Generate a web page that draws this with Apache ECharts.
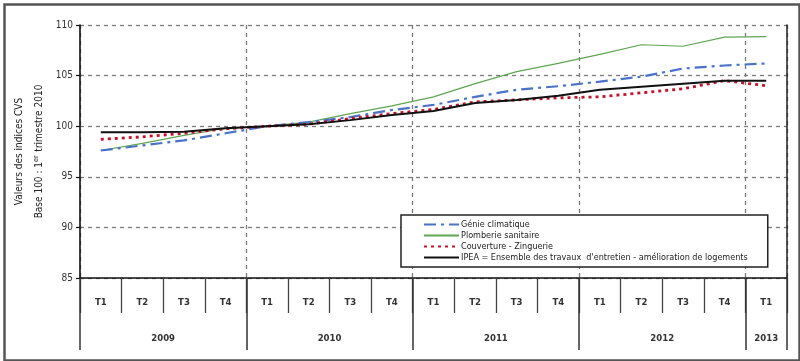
<!DOCTYPE html>
<html>
<head>
<meta charset="utf-8">
<script src="https://cdn.jsdelivr.net/npm/echarts@6/dist/echarts.min.js"></script>
<style>
html,body{margin:0;padding:0;background:#fff;}
#chart{width:800px;height:361px;}
</style>
</head>
<body>
<div id="chart"></div>
<script>
// ---- data ----
var quarters = ['T1','T2','T3','T4','T1','T2','T3','T4','T1','T2','T3','T4','T1','T2','T3','T4','T1'];
var years = ['2009','2010','2011','2012','2013'];
var yearCounts = [4,4,4,4,1];
var seriesNames = ['Génie climatique','Plomberie sanitaire','Couverture - Zinguerie',"IPEA = Ensemble des travaux  d'entretien - amélioration de logements"];
var genie      = [97.6, 98.1, 98.6, 99.3, 100.0, 100.4, 100.9, 101.6, 102.1, 102.9, 103.6, 103.95, 104.4, 104.9, 105.7, 106.0, 106.2];
var plomberie  = [97.6, 98.3, 99.1, 99.8, 100.0, 100.4, 101.25, 102.0, 102.9, 104.2, 105.4, 106.2, 107.1, 108.05, 107.9, 108.8, 108.85];
var couverture = [98.7, 98.95, 99.3, 99.75, 100.0, 100.2, 100.75, 101.25, 101.65, 102.4, 102.6, 102.8, 102.9, 103.3, 103.7, 104.5, 104.0];
var ipea       = [99.4, 99.4, 99.45, 99.8, 100.0, 100.2, 100.6, 101.1, 101.5, 102.3, 102.6, 103.0, 103.6, 103.9, 104.2, 104.5, 104.5];
var yTicks = [85, 90, 95, 100, 105, 110];

// year boundaries / centres derived from quarter counts
var yearStarts = [], yearCentres = [];
(function(){ var s = 0; for (var i = 0; i < yearCounts.length; i++){ yearStarts.push(s); yearCentres.push(s + yearCounts[i]/2); s += yearCounts[i]; } })();

var chart = echarts.init(document.getElementById('chart'), null, {renderer:'canvas'});
var font = "'DejaVu Sans Condensed', 'Liberation Sans Narrow', 'Liberation Sans', Arial, sans-serif";
var dashGrid = {color:'#7a7a7a', width:1.3, type:[4,4]};

var option = {
  backgroundColor:'#fff',
  animation:false,
  textStyle:{fontFamily:font},
  grid:{left:80, right:13, top:25, bottom:83, containLabel:false},
  legend:{
    orient:'vertical', left:401, top:215,
    padding:[5,20,5,22],
    itemGap:2, itemWidth:35, itemHeight:10,
    backgroundColor:'#fff', borderColor:'#222', borderWidth:1.5,
    itemStyle:{color:'rgba(0,0,0,0)', borderColor:'rgba(0,0,0,0)', borderWidth:0, opacity:0},
    textStyle:{fontFamily:font, fontSize:9, color:'#222', padding:[0,0,0,-3]},
    data:seriesNames
  },
  xAxis:[
    { type:'category', data:quarters, position:'bottom', boundaryGap:true,
      axisLine:{show:true, lineStyle:{color:'#111', width:1.6}},
      axisTick:{show:true, length:35, lineStyle:{color:'#444', width:1.3}},
      axisLabel:{margin:20, fontSize:9.5, fontWeight:'bold', color:'#333', fontFamily:font},
      splitLine:{show:false}
    },
    { type:'category', data:quarters, position:'bottom', boundaryGap:true,
      axisLine:{show:false},
      axisTick:{show:true, length:72, interval:function(i){return yearStarts.indexOf(i) >= 0;}, lineStyle:{color:'#333', width:1.5}},
      axisLabel:{show:false},
      splitLine:{show:true, interval:function(i){return yearStarts.indexOf(i) >= 0;}, lineStyle:dashGrid}
    },
    { type:'value', min:0, max:quarters.length, interval:0.5, position:'bottom',
      axisLine:{show:false}, axisTick:{show:false}, splitLine:{show:false},
      axisLabel:{margin:56, fontSize:9.5, fontWeight:'bold', color:'#333', fontFamily:font,
        showMinLabel:true, showMaxLabel:true,
        formatter:function(v){ var k = yearCentres.indexOf(v); return k >= 0 ? years[k] : ''; }}
    }
  ],
  yAxis:[
    { type:'value', min:85, max:110, interval:5,
      axisLine:{show:true, lineStyle:{color:'#111', width:1.6}},
      axisTick:{show:true, length:4, lineStyle:{color:'#111', width:1.2}},
      axisLabel:{fontSize:10, color:'#333', margin:7, fontFamily:font,
        formatter:function(v){ return yTicks.indexOf(v) >= 0 ? String(v) : ''; }},
      splitLine:{show:true, lineStyle:dashGrid},
      name:'{a|Valeurs des indices CVS}\n{a|Base 100 : 1}{s|er}{a| trimestre 2010}',
      nameLocation:'middle', nameRotate:90, nameGap:26,
      nameTextStyle:{rich:{
        a:{fontSize:10, color:'#222', fontFamily:font, lineHeight:20},
        s:{fontSize:7, color:'#222', fontFamily:font, lineHeight:20, padding:[0,1,5,0]}
      }}
    },
    { type:'value', min:85, max:110, interval:5, position:'right',
      axisLine:{show:true, lineStyle:{color:'#222', width:1.5}},
      axisTick:{show:false}, axisLabel:{show:false}, splitLine:{show:false}
    }
  ],
  graphic:[
    { type:'rect', left:2, top:2, shape:{width:795, height:356},
      style:{fill:'none', stroke:'#555', lineWidth:2.5}, silent:true, z:-1 }
  ],
  series:[
    { name:seriesNames[0], type:'line', data:genie, symbol:'none', z:4,
      lineStyle:{color:'#4a72c8', width:2.2, type:[12,5,3,5]}, itemStyle:{color:'#4a72c8'} },
    { name:seriesNames[1], type:'line', data:plomberie, symbol:'none', z:3,
      lineStyle:{color:'#5fa552', width:1.2}, itemStyle:{color:'#5fa552'} },
    { name:seriesNames[2], type:'line', data:couverture, symbol:'none', z:5,
      lineStyle:{color:'#c0142c', width:2.8, type:[3,4]}, itemStyle:{color:'#c0142c'} },
    { name:seriesNames[3], type:'line', data:ipea, symbol:'none', z:6,
      lineStyle:{color:'#111', width:2}, itemStyle:{color:'#111'} }
  ]
};
chart.setOption(option);
</script>
</body>
</html>
